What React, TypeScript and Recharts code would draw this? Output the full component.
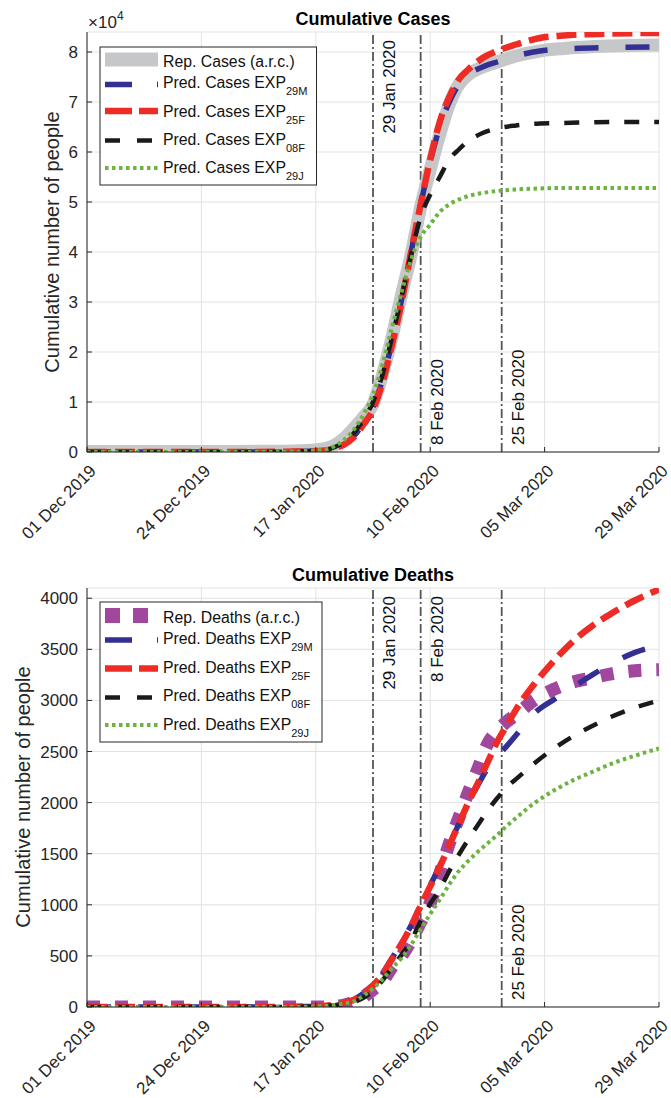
import { LineChart, Line, XAxis, YAxis, CartesianGrid, ReferenceLine } from 'recharts';

const FONT = '"Liberation Sans", Arial, Helvetica, sans-serif';
const INK = '#262626';

// x = days counted from 30 Nov 2019
const dateTicks = [0, 24, 48, 72, 96, 120];
const dateLabels = ['01 Dec 2019', '24 Dec 2019', '17 Jan 2020', '10 Feb 2020', '05 Mar 2020', '29 Mar 2020'];

const markerDays = [60, 70, 87];
const markerLabels = ['29 Jan 2020', '8 Feb 2020', '25 Feb 2020'];

// cumulative cases
const caseTicks = [0, 10000, 20000, 30000, 40000, 50000, 60000, 70000, 80000];
const caseDays = [0, 10, 20, 30, 40, 46, 50, 52, 54, 56, 58, 60, 62, 64, 66, 68, 70, 72, 74, 76, 78, 80, 83, 86, 90, 95, 100, 110, 120];
const repCases = [100, 100, 100, 100, 150, 300, 700, 1400, 2800, 4800, 7000, 9500, 15500, 23000, 31500, 39500, 49000, 56500, 63500, 69500, 73500, 75500, 77000, 78000, 79200, 80200, 80700, 81200, 81400];
const cases29M = [0, 0, 0, 0, 50, 150, 300, 800, 1600, 3200, 5800, 9000, 14500, 22000, 30500, 40000, 49500, 58000, 65000, 70000, 73500, 75500, 77000, 78000, 79200, 80200, 80600, 80900, 81000];
const cases25F = [0, 0, 0, 0, 50, 120, 300, 800, 1500, 3000, 5500, 8500, 14000, 21500, 30000, 40000, 49500, 58500, 66000, 71000, 74500, 76500, 78800, 80200, 81500, 82800, 83300, 83700, 83800];
const cases08F = [0, 0, 0, 0, 50, 150, 400, 1000, 2000, 3800, 6500, 10000, 15500, 23000, 31000, 39500, 47000, 51500, 55000, 58500, 60500, 62200, 63800, 64700, 65300, 65700, 65800, 66000, 66000];
const cases29J = [0, 0, 0, 0, 50, 200, 500, 1200, 2500, 4500, 7500, 11500, 17500, 25000, 32000, 38500, 43000, 45500, 48000, 49500, 50500, 51200, 51800, 52200, 52500, 52700, 52800, 52800, 52800];

// cumulative deaths
const deathTicks = [0, 500, 1000, 1500, 2000, 2500, 3000, 3500, 4000];
const deathDays = [0, 10, 20, 30, 40, 46, 50, 52, 54, 56, 58, 60, 62, 64, 66, 68, 70, 72, 74, 76, 78, 80, 82, 84, 86, 88, 90, 94, 98, 102, 106, 110, 115, 120];
const repDeaths = [0, 0, 0, 0, 0, 0, 0, 5, 20, 50, 100, 170, 250, 390, 500, 650, 830, 1016, 1300, 1600, 1850, 2100, 2330, 2570, 2700, 2790, 2860, 3010, 3110, 3180, 3220, 3260, 3290, 3300];
const deaths29M = [0, 0, 0, 0, 0, 5, 12, 22, 40, 75, 135, 220, 330, 480, 630, 800, 1000, 1190, 1380, 1590, 1790, 1990, 2170, 2330, 2450, 2550, 2660, 2880, 3010, 3130, 3250, 3360, 3470, 3540];
const deaths25F = [0, 0, 0, 0, 0, 5, 12, 22, 40, 70, 125, 210, 320, 470, 620, 790, 990, 1180, 1370, 1580, 1790, 2000, 2190, 2390, 2590, 2750, 2910, 3170, 3390, 3580, 3730, 3850, 3980, 4085];
const deaths08F = [0, 0, 0, 0, 0, 3, 10, 18, 30, 50, 90, 160, 260, 390, 510, 650, 840, 1010, 1150, 1330, 1490, 1640, 1780, 1920, 2040, 2150, 2230, 2390, 2530, 2650, 2750, 2840, 2930, 3000];
const deaths29J = [0, 0, 0, 0, 0, 3, 10, 20, 35, 55, 110, 180, 270, 380, 480, 610, 760, 910, 1050, 1200, 1330, 1430, 1520, 1600, 1680, 1770, 1850, 2000, 2120, 2220, 2300, 2380, 2460, 2530];

const rows = (days: number[], vals: number[]) => days.map((d, i) => ({ d, v: vals[i] }));

const C_GRAY = '#c6c7c9';
const C_BLUE = '#332f93';
const C_RED = '#ee2b25';
const C_BLACK = '#1a1a1a';
const C_GREEN = '#6cb33f';
const C_PURPLE = '#a1489e';

const DateTick = (props: any) => {
  const { x, y, payload } = props;
  const i = dateTicks.indexOf(payload.value);
  const tx = x + 10;
  const ty = y + 20;
  return (
    <text x={tx} y={ty} transform={`rotate(-45 ${tx} ${ty})`} textAnchor="end" fontSize={17} fill={INK} fontFamily={FONT}>
      {dateLabels[i]}
    </text>
  );
};

const MarkerLabel = (props: any) => {
  const { viewBox, text, pos } = props;
  const tx = viewBox.x + 22;
  const ty = pos === 'top' ? viewBox.y + 8 : viewBox.y + viewBox.height - 7;
  return (
    <text x={tx} y={ty} transform={`rotate(-90 ${tx} ${ty})`} textAnchor={pos === 'top' ? 'end' : 'start'} fontSize={17} fill="#111" fontFamily={FONT}>
      {text}
    </text>
  );
};

function Panel({ yTicks, yMax, yFmt, xHeight, top, height, labelPos, children }: any) {
  return (
    <LineChart width={671} height={height} margin={{ top, right: 12, left: 0, bottom: 0 }}>
      <CartesianGrid stroke="#e2e2e2" strokeWidth={1} />
      <XAxis
        dataKey="d"
        type="number"
        domain={[0, 120]}
        ticks={dateTicks}
        interval={0}
        height={xHeight}
        tickSize={-5}
        tickMargin={5}
        tick={<DateTick />}
        stroke={INK}
        allowDataOverflow
      />
      <XAxis xAxisId="top" orientation="top" type="number" dataKey="d" domain={[0, 120]} ticks={dateTicks} height={0} tickSize={-5} tick={false} stroke={INK} />
      <YAxis
        type="number"
        domain={[0, yMax]}
        ticks={yTicks}
        width={87}
        tickSize={-5}
        tickMargin={14}
        tickFormatter={yFmt}
        tick={{ fontSize: 17, fill: INK, fontFamily: FONT }}
        stroke={INK}
        allowDataOverflow
      />
      <YAxis yAxisId="r" orientation="right" type="number" domain={[0, yMax]} ticks={yTicks} width={0} tickSize={-5} tick={false} stroke={INK} />
      {markerDays.map((m, i) => (
        <ReferenceLine
          key={m}
          x={m}
          stroke="#555555"
          strokeWidth={1.8}
          strokeDasharray="9 3 2 3"
          label={<MarkerLabel text={markerLabels[i]} pos={labelPos[i]} />}
        />
      ))}
      {children}
    </LineChart>
  );
}

const LegendText = ({ x, y, main, sub }: any) => (
  <text x={x} y={y} fontSize={15.8} fill="#111" fontFamily={FONT}>
    {main}
    {sub && (
      <tspan fontSize={11} dy={7}>
        {sub}
      </tspan>
    )}
  </text>
);

export default function App() {
  return (
    <div style={{ position: 'absolute', left: 0, top: 0, width: 671, height: 1098, background: '#fff' }}>
      <div style={{ position: 'absolute', left: 0, top: 0 }}>
        <Panel
          yTicks={caseTicks}
          yMax={84000}
          yFmt={(v: number) => String(v / 10000)}
          xHeight={108}
          top={32}
          height={560}
          labelPos={['top', 'bottom', 'bottom']}
        >
          <Line data={rows(caseDays, repCases)} dataKey="v" type="monotone" stroke={C_GRAY} strokeWidth={13} dot={false} isAnimationActive={false} />
          <Line data={rows(caseDays, cases29M)} dataKey="v" type="monotone" stroke={C_BLUE} strokeWidth={5.5} strokeDasharray="24 27" dot={false} isAnimationActive={false} />
          <Line data={rows(caseDays, cases25F)} dataKey="v" type="monotone" stroke={C_RED} strokeWidth={6.5} strokeDasharray="20 8" dot={false} isAnimationActive={false} />
          <Line data={rows(caseDays, cases08F)} dataKey="v" type="monotone" stroke={C_BLACK} strokeWidth={4.5} strokeDasharray="15 15" dot={false} isAnimationActive={false} />
          <Line data={rows(caseDays, cases29J)} dataKey="v" type="monotone" stroke={C_GREEN} strokeWidth={4} strokeDasharray="3.5 3.5" dot={false} isAnimationActive={false} />
        </Panel>
      </div>
      <div style={{ position: 'absolute', left: 0, top: 560 }}>
        <Panel
          yTicks={deathTicks}
          yMax={4100}
          yFmt={(v: number) => String(v)}
          xHeight={91}
          top={28}
          height={538}
          labelPos={['top', 'top', 'bottom']}
        >
          <Line data={rows(deathDays, repDeaths)} dataKey="v" type="monotone" stroke={C_PURPLE} strokeWidth={13} strokeDasharray="13 15" dot={false} isAnimationActive={false} />
          <Line data={rows(deathDays, deaths29M)} dataKey="v" type="monotone" stroke={C_BLUE} strokeWidth={5.5} strokeDasharray="24 27" dot={false} isAnimationActive={false} />
          <Line data={rows(deathDays, deaths25F)} dataKey="v" type="monotone" stroke={C_RED} strokeWidth={6.5} strokeDasharray="20 8" dot={false} isAnimationActive={false} />
          <Line data={rows(deathDays, deaths08F)} dataKey="v" type="monotone" stroke={C_BLACK} strokeWidth={4.5} strokeDasharray="15 15" dot={false} isAnimationActive={false} />
          <Line data={rows(deathDays, deaths29J)} dataKey="v" type="monotone" stroke={C_GREEN} strokeWidth={4} strokeDasharray="3.5 3.5" dot={false} isAnimationActive={false} />
        </Panel>
      </div>

      <svg width={671} height={1098} style={{ position: 'absolute', left: 0, top: 0, pointerEvents: 'none' }}>
        {/* titles and axis labels */}
        <text x={373} y={25} textAnchor="middle" fontSize={18} fontWeight="bold" fill="#000" fontFamily={FONT}>Cumulative Cases</text>
        <text x={373} y={581} textAnchor="middle" fontSize={18} fontWeight="bold" fill="#000" fontFamily={FONT}>Cumulative Deaths</text>
        <text x={88} y={28} fontSize={17} fill={INK} fontFamily={FONT}>×10</text>
        <text x={117} y={20} fontSize={12} fill={INK} fontFamily={FONT}>4</text>
        <text x={59} y={242} transform="rotate(-90 59 242)" textAnchor="middle" fontSize={20} fill={INK} fontFamily={FONT}>Cumulative number of people</text>
        <text x={30} y={797} transform="rotate(-90 30 797)" textAnchor="middle" fontSize={20} fill={INK} fontFamily={FONT}>Cumulative number of people</text>

        {/* legend: cases */}
        <rect x={100} y={47} width={216.5} height={138} fill="#fff" stroke={INK} strokeWidth={1} />
        <line x1={105} x2={158} y1={59.5} y2={59.5} stroke={C_GRAY} strokeWidth={14} />
        <line x1={105} x2={158} y1={84.5} y2={84.5} stroke={C_BLUE} strokeWidth={5.5} strokeDasharray="27 25" />
        <line x1={105} x2={158} y1={111} y2={111} stroke={C_RED} strokeWidth={6.5} strokeDasharray="27 7" />
        <line x1={105} x2={158} y1={140.5} y2={140.5} stroke={C_BLACK} strokeWidth={4.5} strokeDasharray="15 17" />
        <line x1={105} x2={158} y1={168} y2={168} stroke={C_GREEN} strokeWidth={4} strokeDasharray="3.5 3.5" />
        <LegendText x={163} y={67} main="Rep. Cases (a.r.c.)" />
        <LegendText x={163} y={88} main="Pred. Cases EXP" sub="29M" />
        <LegendText x={163} y={117} main="Pred. Cases EXP" sub="25F" />
        <LegendText x={163} y={145} main="Pred. Cases EXP" sub="08F" />
        <LegendText x={163} y={173} main="Pred. Cases EXP" sub="29J" />

        {/* legend: deaths */}
        <rect x={100} y={602} width={222} height={140} fill="#fff" stroke={INK} strokeWidth={1} />
        <line x1={105} x2={158} y1={615.5} y2={615.5} stroke={C_PURPLE} strokeWidth={15} strokeDasharray="15 13" />
        <line x1={105} x2={158} y1={640} y2={640} stroke={C_BLUE} strokeWidth={5.5} strokeDasharray="27 25" />
        <line x1={105} x2={158} y1={668.5} y2={668.5} stroke={C_RED} strokeWidth={6.5} strokeDasharray="27 7" />
        <line x1={105} x2={158} y1={697.5} y2={697.5} stroke={C_BLACK} strokeWidth={4.5} strokeDasharray="15 17" />
        <line x1={105} x2={158} y1={725} y2={725} stroke={C_GREEN} strokeWidth={4} strokeDasharray="3.5 3.5" />
        <LegendText x={163} y={623} main="Rep. Deaths (a.r.c.)" />
        <LegendText x={163} y={644} main="Pred. Deaths EXP" sub="29M" />
        <LegendText x={163} y={673} main="Pred. Deaths EXP" sub="25F" />
        <LegendText x={163} y={701} main="Pred. Deaths EXP" sub="08F" />
        <LegendText x={163} y={730} main="Pred. Deaths EXP" sub="29J" />
      </svg>
    </div>
  );
}
